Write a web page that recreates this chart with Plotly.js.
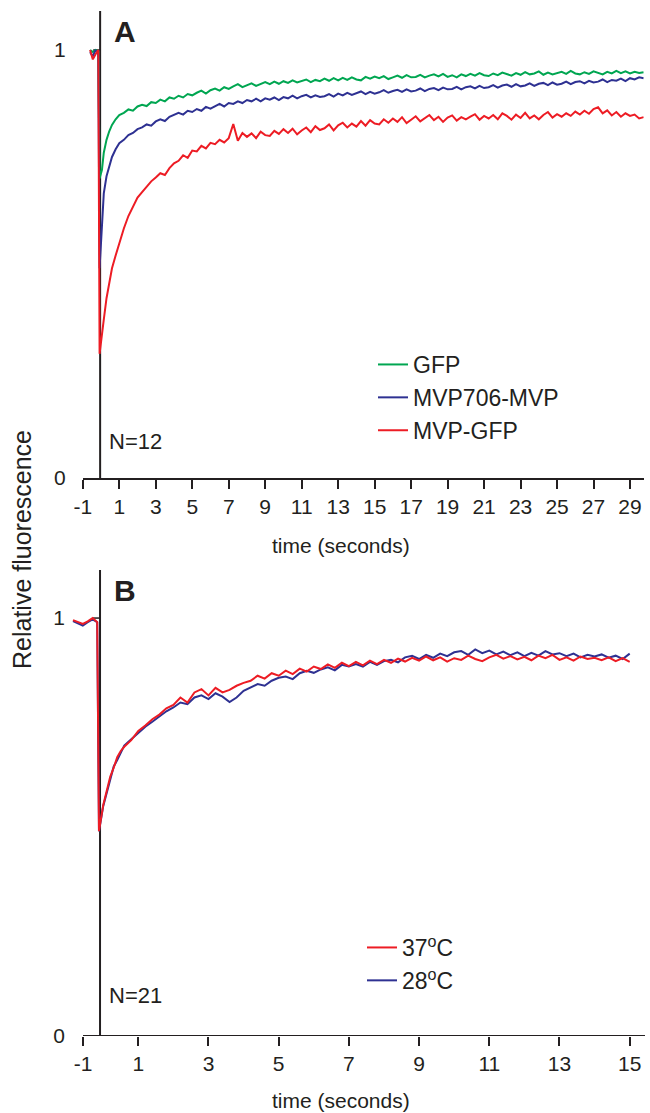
<!DOCTYPE html>
<html>
<head>
<meta charset="utf-8">
<script src="https://cdn.plot.ly/plotly-3.0.1.min.js"></script>
<style>html,body{margin:0;padding:0;background:#fff;}#chart{width:650px;height:1113px;}</style>
</head>
<body>
<div id="chart"></div>
<script>
// ---------- Panel A data ----------
const tA = [-0.6,-0.45,-0.3,-0.15,-0.08,0.05,0.15,0.3,0.45,0.6,0.8,1.0,
1.25,1.5,1.75,2, 2.25,2.5,2.75,3, 3.25,3.5,3.75,4, 4.25,4.5,4.75,5, 5.25,5.5,5.75,6,
6.25,6.5,6.75,7, 7.25,7.5,7.75,8, 8.25,8.5,8.75,9, 9.25,9.5,9.75,10, 10.25,10.5,10.75,11,
11.25,11.5,11.75,12, 12.25,12.5,12.75,13, 13.25,13.5,13.75,14, 14.25,14.5,14.75,15,
15.25,15.5,15.75,16, 16.25,16.5,16.75,17, 17.25,17.5,17.75,18, 18.25,18.5,18.75,19,
19.25,19.5,19.75,20, 20.25,20.5,20.75,21, 21.25,21.5,21.75,22, 22.25,22.5,22.75,23,
23.25,23.5,23.75,24, 24.25,24.5,24.75,25, 25.25,25.5,25.75,26, 26.25,26.5,26.75,27,
27.25,27.5,27.75,28, 28.25,28.5,28.75,29, 29.25,29.5,29.75];

const gfpA = [1.0,0.995,1.0,0.997,0.70,0.72,0.76,0.79,0.81,0.825,0.838,0.848,
0.853,0.861,0.858,0.868, 0.872,0.869,0.878,0.876, 0.884,0.880,0.889,0.886, 0.893,0.889,0.897,0.894,
0.900,0.905,0.898,0.906, 0.910,0.905,0.913,0.909, 0.915,0.920,0.913,0.918, 0.922,0.916,0.921,0.925,
0.920,0.926,0.921,0.927, 0.923,0.929,0.924,0.928, 0.931,0.925,0.930,0.927, 0.933,0.928,0.934,0.929,
0.935,0.930,0.936,0.931, 0.929,0.937,0.933,0.938, 0.934,0.939,0.932,0.936, 0.940,0.935,0.941,0.936,
0.937,0.942,0.936,0.940, 0.943,0.938,0.944,0.937, 0.941,0.936,0.943,0.939, 0.944,0.940,0.946,0.941,
0.939,0.945,0.941,0.947, 0.944,0.940,0.946,0.942, 0.948,0.943,0.945,0.950, 0.942,0.947,0.943,0.946,
0.949,0.944,0.951,0.945, 0.943,0.948,0.944,0.950, 0.947,0.943,0.949,0.945, 0.951,0.946,0.950,0.945,
0.949,0.946,0.948];

const mvp706A = [0.995,0.985,1.0,0.99,0.49,0.61,0.665,0.705,0.73,0.75,0.768,0.782,
0.790,0.801,0.806,0.815, 0.819,0.826,0.823,0.833, 0.838,0.834,0.844,0.848, 0.853,0.849,0.858,0.855,
0.862,0.858,0.867,0.863, 0.868,0.874,0.868,0.876, 0.874,0.880,0.876,0.883, 0.880,0.886,0.880,0.887,
0.884,0.889,0.883,0.890, 0.887,0.893,0.887,0.892, 0.895,0.889,0.894,0.890, 0.892,0.897,0.891,0.898,
0.894,0.900,0.895,0.899, 0.903,0.897,0.902,0.898, 0.901,0.906,0.900,0.904, 0.907,0.902,0.908,0.903,
0.905,0.910,0.904,0.909, 0.911,0.906,0.912,0.908, 0.909,0.914,0.908,0.913, 0.915,0.910,0.916,0.911,
0.913,0.918,0.912,0.917, 0.919,0.914,0.920,0.915, 0.917,0.922,0.916,0.921, 0.923,0.918,0.924,0.919,
0.921,0.926,0.920,0.925, 0.927,0.922,0.928,0.924, 0.926,0.931,0.925,0.930, 0.928,0.933,0.927,0.934,
0.931,0.936,0.934];

const mvpGfpA = [1.0,0.978,0.99,1.0,0.29,0.33,0.37,0.42,0.46,0.49,0.52,0.55,
0.583,0.612,0.632,0.655, 0.668,0.681,0.693,0.702, 0.712,0.708,0.724,0.735, 0.741,0.754,0.748,0.765,
0.763,0.776,0.770,0.783, 0.780,0.790,0.784,0.794, 0.827,0.788,0.806,0.797, 0.805,0.794,0.809,0.801,
0.799,0.811,0.804,0.815, 0.806,0.816,0.803,0.812, 0.819,0.808,0.822,0.813, 0.817,0.826,0.812,0.824,
0.830,0.819,0.828,0.821, 0.834,0.823,0.836,0.828, 0.826,0.838,0.830,0.840, 0.832,0.843,0.829,0.837,
0.845,0.833,0.841,0.848, 0.836,0.844,0.832,0.842, 0.847,0.835,0.843,0.838, 0.844,0.850,0.837,0.846,
0.840,0.848,0.838,0.852, 0.846,0.837,0.849,0.841, 0.853,0.840,0.847,0.838, 0.848,0.855,0.842,0.850,
0.844,0.852,0.846,0.856, 0.849,0.858,0.851,0.862, 0.866,0.852,0.859,0.847, 0.855,0.844,0.852,0.846,
0.849,0.840,0.843];

// ---------- Panel B data ----------
const tB = [-0.86,-0.72,-0.58,-0.44,-0.3,-0.17,-0.12,0,0.1,0.2,0.3,0.4,0.5,0.6,0.8,1.0,
1.2,1.4,1.6,1.8,2.0, 2.2,2.4,2.6,2.8,3.0, 3.2,3.4,3.6,3.8,4.0, 4.2,4.4,4.6,4.8,5.0,
5.2,5.4,5.6,5.8,6.0, 6.2,6.4,6.6,6.8,7.0, 7.2,7.4,7.6,7.8,8.0, 8.2,8.4,8.6,8.8,9.0,
9.2,9.4,9.6,9.8,10.0, 10.2,10.4,10.6,10.8,11.0, 11.2,11.4,11.6,11.8,12.0, 12.2,12.4,12.6,12.8,13.0,
13.2,13.4,13.6,13.8,14.0, 14.2,14.4,14.6,14.8,15.0];

const c37B = [0.995,0.99,0.986,0.992,1.0,0.99,0.49,0.552,0.588,0.62,0.642,0.667,0.682,0.692,0.708,0.73,
0.743,0.758,0.769,0.784,0.792, 0.810,0.798,0.822,0.830,0.815, 0.833,0.822,0.828,0.838,0.845,
0.850,0.862,0.855,0.868,0.862, 0.874,0.866,0.879,0.872,0.884, 0.878,0.889,0.881,0.893,0.885,
0.895,0.887,0.898,0.890,0.900, 0.893,0.903,0.896,0.905,0.898, 0.908,0.899,0.906,0.896,0.904,
0.900,0.910,0.902,0.897,0.906, 0.912,0.903,0.909,0.901,0.907, 0.899,0.910,0.904,0.912,0.900,
0.906,0.898,0.908,0.902,0.905, 0.899,0.906,0.897,0.904,0.895];

const c28B = [0.993,0.988,0.982,0.99,0.997,0.99,0.49,0.55,0.58,0.615,0.645,0.66,0.678,0.695,0.71,0.725,
0.740,0.752,0.765,0.777,0.786, 0.798,0.794,0.810,0.815,0.806, 0.820,0.812,0.799,0.810,0.826,
0.835,0.842,0.838,0.850,0.857, 0.860,0.854,0.868,0.874,0.869, 0.877,0.882,0.875,0.888,0.884,
0.890,0.884,0.895,0.888,0.897, 0.900,0.894,0.906,0.910,0.902, 0.912,0.905,0.915,0.909,0.918,
0.921,0.912,0.925,0.916,0.922, 0.913,0.920,0.911,0.918,0.909, 0.917,0.910,0.921,0.913,0.916,
0.909,0.915,0.906,0.912,0.908, 0.913,0.905,0.910,0.902,0.915];

// ---------- tick labels ----------
const tickValsA = [-1,1,3,5,7,9,11,13,15,17,19,21,23,25,27,29];
const tickTextA = ['-1','1','3','5','7','9','11','13','15','17','19','21','23','25','27','29'];
const tickValsB = [-0.575,1,3,5,7,9,11,13,15];
const tickTextB = ['-1','1','3','5','7','9','11','13','15'];
const yTickVals = [0,1];
const yTickText = ['0','1'];

const GREEN = '#00a651', BLUE = '#2e3192', RED = '#ed1c24', INK = '#231f20';
const FONT = 'Liberation Sans, Arial, Helvetica, sans-serif';

const traces = [
  {x: tA, y: gfpA, name: 'GFP', type: 'scatter', mode: 'lines', line: {color: GREEN, width: 2}, xaxis: 'x', yaxis: 'y', legend: 'legend'},
  {x: tA, y: mvp706A, name: 'MVP706-MVP', type: 'scatter', mode: 'lines', line: {color: BLUE, width: 2}, xaxis: 'x', yaxis: 'y', legend: 'legend'},
  {x: tA, y: mvpGfpA, name: 'MVP-GFP', type: 'scatter', mode: 'lines', line: {color: RED, width: 2}, xaxis: 'x', yaxis: 'y', legend: 'legend'},
  {x: tB, y: c28B, name: '28<sup>o</sup>C', type: 'scatter', mode: 'lines', line: {color: BLUE, width: 2}, xaxis: 'x2', yaxis: 'y2', legend: 'legend2'},
  {x: tB, y: c37B, name: '37<sup>o</sup>C', type: 'scatter', mode: 'lines', line: {color: RED, width: 2}, xaxis: 'x2', yaxis: 'y2', legend: 'legend2'}
];

const W = 650, H = 1113;
const px = v => v / W;
const py = v => 1 - v / H;

const xCommon = {showgrid: false, zeroline: false, ticks: 'outside', ticklen: 9, tickwidth: 2, tickcolor: INK,
  tickfont: {family: FONT, size: 21, color: INK}, fixedrange: true};
const yCommon = {showgrid: false, zeroline: false, showline: false, ticks: '', tickvals: yTickVals, ticktext: yTickText,
  tickfont: {family: FONT, size: 21, color: INK}, fixedrange: true};

const VA = -0.05, VB = -0.09; // x position of the vertical bleach line in each panel
const titleFont = {family: FONT, size: 21, color: INK};

const layout = {
  width: W, height: H,
  margin: {l: 0, r: 0, t: 0, b: 0},
  paper_bgcolor: '#ffffff', plot_bgcolor: 'rgba(0,0,0,0)',
  font: {family: FONT, color: INK},
  showlegend: true,
  xaxis: Object.assign({}, xCommon, {domain: [px(82.8), px(643.7)], range: [-1, 29.75], anchor: 'y',
    showline: true, linewidth: 2, linecolor: INK, tickvals: tickValsA, ticktext: tickTextA, ticklabelstandoff: 0}),
  yaxis: Object.assign({}, yCommon, {domain: [py(478), py(11)], range: [0, 1.091], anchor: 'x', ticklabelstandoff: 16}),
  xaxis2: Object.assign({}, xCommon, {domain: [px(71), px(645)], range: [-0.917, 15.436], anchor: 'y2',
    showline: false, tickvals: tickValsB, ticktext: tickTextB, ticklabelstandoff: 0}),
  yaxis2: Object.assign({}, yCommon, {domain: [py(1036), py(570)], range: [0, 1.115], anchor: 'x2', ticklabelstandoff: 5}),
  legend: {x: px(373), y: py(343), xanchor: 'left', yanchor: 'top', bgcolor: 'rgba(0,0,0,0)',
    font: {family: FONT, size: 23, color: INK}, tracegroupgap: 0, itemwidth: 30},
  legend2: {x: px(362), y: py(926), xanchor: 'left', yanchor: 'top', bgcolor: 'rgba(0,0,0,0)', traceorder: 'reversed',
    font: {family: FONT, size: 23, color: INK}, tracegroupgap: 0, itemwidth: 30},
  shapes: [
    // vertical bleach line, panel A (extends below the axis like a tick)
    {type: 'line', xref: 'x', yref: 'y', x0: VA, x1: VA, y0: -0.021, y1: 1.091, line: {color: INK, width: 2}, layer: 'below'},
    {type: 'line', xref: 'x', yref: 'y', x0: VA - 0.38, x1: VA, y0: 1, y1: 1, line: {color: INK, width: 1.5}, layer: 'below'},
    // panel B axis line and vertical bleach line
    {type: 'line', xref: 'x2', yref: 'y2', x0: -0.575, x1: 15.436, y0: 0, y1: 0, line: {color: INK, width: 2}, layer: 'below'},
    {type: 'line', xref: 'x2', yref: 'y2', x0: VB, x1: VB, y0: -0.0215, y1: 1.115, line: {color: INK, width: 2}, layer: 'below'},
    {type: 'line', xref: 'x2', yref: 'y2', x0: VB - 0.2, x1: VB, y0: 1, y1: 1, line: {color: INK, width: 1.5}, layer: 'below'}
  ],
  annotations: [
    {text: '<b>A</b>', xref: 'paper', yref: 'paper', x: px(125), y: py(31), xanchor: 'center', yanchor: 'middle', showarrow: false,
      font: {family: FONT, size: 30, color: INK}},
    {text: '<b>B</b>', xref: 'paper', yref: 'paper', x: px(125), y: py(590), xanchor: 'center', yanchor: 'middle', showarrow: false,
      font: {family: FONT, size: 30, color: INK}},
    {text: 'N=12', xref: 'paper', yref: 'paper', x: px(107), y: py(441), xanchor: 'left', yanchor: 'middle', showarrow: false,
      font: {family: FONT, size: 22, color: INK}},
    {text: 'N=21', xref: 'paper', yref: 'paper', x: px(107), y: py(995), xanchor: 'left', yanchor: 'middle', showarrow: false,
      font: {family: FONT, size: 22, color: INK}},
    {text: 'time (seconds)', xref: 'paper', yref: 'paper', x: px(341), y: py(545), xanchor: 'center', yanchor: 'middle', showarrow: false,
      font: titleFont},
    {text: 'time (seconds)', xref: 'paper', yref: 'paper', x: px(341), y: py(1100), xanchor: 'center', yanchor: 'middle', showarrow: false,
      font: titleFont},
    {text: 'Relative fluorescence', xref: 'paper', yref: 'paper', x: px(22), y: py(550), xanchor: 'center', yanchor: 'middle',
      showarrow: false, textangle: -90, font: {family: FONT, size: 25, color: INK}}
  ]
};

Plotly.newPlot('chart', traces, layout, {displayModeBar: false, staticPlot: true});
</script>
</body>
</html>
